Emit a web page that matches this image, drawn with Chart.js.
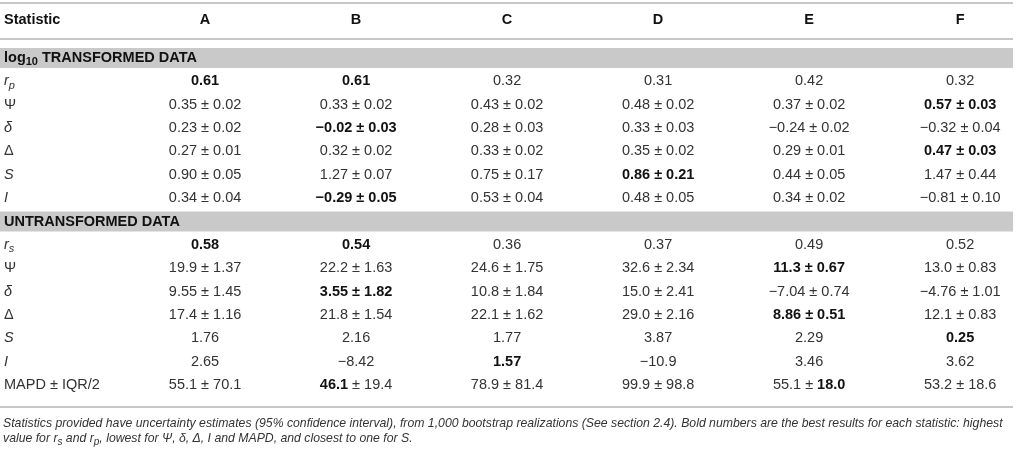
<!DOCTYPE html>
<html>
<head>
<meta charset="utf-8">
<script src="https://cdn.jsdelivr.net/npm/chart.js@4.4.0/dist/chart.umd.min.js"></script>
<style>
  html, body { margin: 0; padding: 0; background: #fff; }
  #wrap { position: relative; width: 1016px; height: 450px; }
</style>
</head>
<body>
<div id="wrap"><canvas id="tableChart"></canvas></div>
<script>
'use strict';

// ---- data (** toggles bold, _x is a subscript) ----
const columns = ['A', 'B', 'C', 'D', 'E', 'F'];
const headerLabel = 'Statistic';

const logTitle = 'log_10 TRANSFORMED DATA';
const logStats = ['r_p', 'Ψ', 'δ', 'Δ', 'S', 'I'];
const logRp    = ['**0.61**', '**0.61**', '0.32', '0.31', '0.42', '0.32'];
const logPsi   = ['0.35 ± 0.02', '0.33 ± 0.02', '0.43 ± 0.02', '0.48 ± 0.02', '0.37 ± 0.02', '**0.57 ± 0.03**'];
const logDelta = ['0.23 ± 0.02', '**−0.02 ± 0.03**', '0.28 ± 0.03', '0.33 ± 0.03', '−0.24 ± 0.02', '−0.32 ± 0.04'];
const logBigDelta = ['0.27 ± 0.01', '0.32 ± 0.02', '0.33 ± 0.02', '0.35 ± 0.02', '0.29 ± 0.01', '**0.47 ± 0.03**'];
const logS     = ['0.90 ± 0.05', '1.27 ± 0.07', '0.75 ± 0.17', '**0.86 ± 0.21**', '0.44 ± 0.05', '1.47 ± 0.44'];
const logI     = ['0.34 ± 0.04', '**−0.29 ± 0.05**', '0.53 ± 0.04', '0.48 ± 0.05', '0.34 ± 0.02', '−0.81 ± 0.10'];

const rawTitle = 'UNTRANSFORMED DATA';
const rawStats = ['r_s', 'Ψ', 'δ', 'Δ', 'S', 'I', 'MAPD ± IQR/2'];
const rawRs    = ['**0.58**', '**0.54**', '0.36', '0.37', '0.49', '0.52'];
const rawPsi   = ['19.9 ± 1.37', '22.2 ± 1.63', '24.6 ± 1.75', '32.6 ± 2.34', '**11.3 ± 0.67**', '13.0 ± 0.83'];
const rawDelta = ['9.55 ± 1.45', '**3.55 ± 1.82**', '10.8 ± 1.84', '15.0 ± 2.41', '−7.04 ± 0.74', '−4.76 ± 1.01'];
const rawBigDelta = ['17.4 ± 1.16', '21.8 ± 1.54', '22.1 ± 1.62', '29.0 ± 2.16', '**8.86 ± 0.51**', '12.1 ± 0.83'];
const rawS     = ['1.76', '2.16', '1.77', '3.87', '2.29', '**0.25**'];
const rawI     = ['2.65', '−8.42', '**1.57**', '−10.9', '3.46', '3.62'];
const rawMapd  = ['55.1 ± 70.1', '**46.1** ± 19.4', '78.9 ± 81.4', '99.9 ± 98.8', '55.1 ± **18.0**', '53.2 ± 18.6'];

const footnote = [
  'Statistics provided have uncertainty estimates (95% confidence interval), from 1,000 bootstrap realizations (See section 2.4). Bold numbers are the best results for each statistic: highest',
  'value for r_s and r_p, lowest for Ψ, δ, Δ, I and MAPD, and closest to one for S.'
];

// ---- build rows for the category axis ----
const groups = [
  { key: 'log', title: logTitle, stats: logStats,
    values: [logRp, logPsi, logDelta, logBigDelta, logS, logI] },
  { key: 'raw', title: rawTitle, stats: rawStats,
    values: [rawRs, rawPsi, rawDelta, rawBigDelta, rawS, rawI, rawMapd] }
];

let rowKeys = [];
let bandRows = [];
let statRows = [];
let cells = [];
groups.forEach((g) => {
  rowKeys.push(g.key + '-band');
  bandRows.push({ key: g.key + '-band', title: g.title });
  g.stats.forEach((stat, i) => {
    const key = g.key + '-' + i;
    rowKeys.push(key);
    statRows.push({ key: key, label: stat });
    g.values[i].forEach((text, col) => {
      cells.push({ x: col + 1, y: key, text: text });
    });
  });
});

const FONT = '"Liberation Sans", Arial, Helvetica, sans-serif';
const TEXT = '#333333';
const BOLD = '#111111';
const RULE = '#b4b4b4';
const BAND = '#c9c9c9';
const SIZE = 14.5;

function fontFor(run, size) {
  const s = run.sub ? Math.round(size * 0.78) : size;
  return (run.italic ? 'italic ' : '') + (run.bold ? 'bold ' : '') + s + 'px ' + FONT;
}

function parseRuns(str, style) {
  const runs = [];
  let bold = !!style.bold;
  const re = /\*\*|_([A-Za-z0-9]+)|[^*_]+/g;
  let m;
  while ((m = re.exec(str))) {
    if (m[0] === '**') bold = !bold;
    else if (m[1]) runs.push({ t: m[1], bold: bold, italic: style.italic, sub: true });
    else runs.push({ t: m[0], bold: bold, italic: style.italic, sub: false });
  }
  return runs;
}

function runsWidth(ctx, runs, size) {
  let w = 0;
  runs.forEach((r) => {
    ctx.font = fontFor(r, size);
    w += ctx.measureText(r.t).width;
  });
  return w;
}

function drawRuns(ctx, runs, x, y, size, align) {
  let cx = align === 'center' ? x - runsWidth(ctx, runs, size) / 2 : x;
  ctx.textAlign = 'left';
  ctx.textBaseline = 'middle';
  runs.forEach((r) => {
    ctx.font = fontFor(r, size);
    ctx.fillStyle = r.bold ? BOLD : TEXT;
    ctx.fillText(r.t, cx, r.sub ? y + size * 0.3 : y);
    cx += ctx.measureText(r.t).width;
  });
}

function isUpright(label) {
  return label === 'Ψ' || label === 'Δ' || label.indexOf('MAPD') === 0;
}

const tablePlugin = {
  id: 'tableText',
  beforeDatasetsDraw(chart) {
    const { ctx, chartArea, scales } = chart;
    const y = scales.y;
    const left = 0;
    const right = chartArea.right - 3;
    ctx.save();

    // grey section bands
    bandRows.forEach((b) => {
      const py = y.getPixelForValue(rowKeys.indexOf(b.key));
      ctx.fillStyle = BAND;
      ctx.fillRect(left, py - 10, right - left, 20);
      drawRuns(ctx, parseRuns(b.title, { bold: true }), left + 4, py, SIZE, 'left');
    });

    // rules
    ctx.strokeStyle = RULE;
    ctx.lineWidth = 1.5;
    [chartArea.top - 55, chartArea.top - 19, chartArea.bottom + 22].forEach((ly) => {
      ctx.beginPath();
      ctx.moveTo(left, ly);
      ctx.lineTo(right, ly);
      ctx.stroke();
    });

    // header row
    const hy = chartArea.top - 38;
    drawRuns(ctx, parseRuns(headerLabel, { bold: true }), left + 4, hy, SIZE, 'left');
    columns.forEach((c, i) => {
      drawRuns(ctx, parseRuns(c, { bold: true }), scales.x.getPixelForValue(i + 1), hy, SIZE, 'center');
    });
    ctx.restore();
  },
  afterDatasetsDraw(chart) {
    const { ctx, chartArea, scales } = chart;
    const y = scales.y;
    ctx.save();

    // statistic names
    statRows.forEach((r) => {
      const py = y.getPixelForValue(rowKeys.indexOf(r.key));
      drawRuns(ctx, parseRuns(r.label, { italic: !isUpright(r.label) }), 4, py, SIZE, 'left');
    });

    // cell values, placed at the points the scales computed
    const meta = chart.getDatasetMeta(0);
    meta.data.forEach((pt, i) => {
      const raw = chart.data.datasets[0].data[i];
      drawRuns(ctx, parseRuns(raw.text, {}), pt.x, pt.y, SIZE, 'center');
    });

    // footnote, fitted to the table width
    const line1 = parseRuns(footnote[0], { italic: true });
    const w12 = runsWidth(ctx, line1, 12);
    const fs = Math.min(13, 12 * 1000 / w12);
    drawRuns(ctx, line1, 3, chartArea.bottom + 39, fs, 'left');
    drawRuns(ctx, parseRuns(footnote[1], { italic: true }), 3, chartArea.bottom + 54, fs, 'left');
    ctx.restore();
  }
};

const ctx = document.getElementById('tableChart');
const tableChart = new Chart(ctx, {
  type: 'scatter',
  data: {
    datasets: [{
      label: 'cells',
      data: cells,
      pointRadius: 0,
      pointHoverRadius: 0
    }]
  },
  options: {
    responsive: true,
    maintainAspectRatio: false,
    animation: false,
    events: [],
    layout: { padding: { top: 58, bottom: 65, left: 0, right: 0 } },
    plugins: { legend: { display: false }, tooltip: { enabled: false } },
    scales: {
      x: { type: 'linear', min: -0.358, max: 6.37, display: false },
      y: { type: 'category', labels: rowKeys, offset: false, display: false }
    }
  },
  plugins: [tablePlugin]
});
</script>
</body>
</html>
